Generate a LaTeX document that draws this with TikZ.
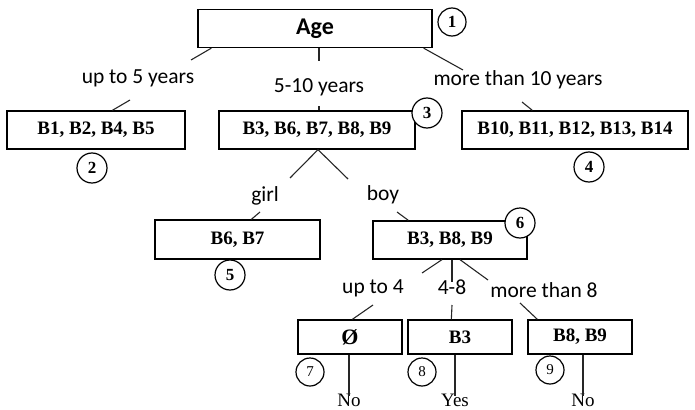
\documentclass[tikz,border=0pt]{standalone}
\usepackage{fontspec}
\setmainfont{Liberation Serif}
\newfontfamily\lblfont{Carlito}
\usetikzlibrary{positioning}

\begin{document}
\begin{tikzpicture}[x=1pt, y=-1pt,
    setbox/.style={draw, line width=1.3pt, minimum height=38pt, inner sep=0pt,
      font=\fontsize{19}{21}\selectfont\bfseries},
    numcirc/.style={circle, draw, fill=white, line width=1.2pt, minimum size=30pt, inner sep=0pt,
      font=\fontsize{17}{19}\selectfont\bfseries},
    leafcirc/.style={numcirc, minimum size=28pt, font=\fontsize{15}{17}\selectfont},
    branch/.style={inner sep=0pt, font=\lblfont\fontsize{21.5}{23}\selectfont},
    answer/.style={inner sep=0pt, font=\fontsize{19}{21}\selectfont},
    link/.style={line width=1.1pt, black!85}]

    \useasboundingbox (0,0) rectangle (695,409);

    % root
    \node[setbox, minimum width=234pt, font=\lblfont\fontsize{24}{26}\selectfont\bfseries] (age) at (315,28.5) {Age};
    \node[numcirc, minimum size=28pt] (n1) at (452,22) {1};

    % first level
    \node[branch] (lab5) at (138,78) {up to 5 years};
    \node[branch] (lab510) at (319,87) {5-10 years};
    \node[branch] (lab10) at (518,80) {more than 10 years};

    \node[setbox, minimum width=178pt] (b1) at (96,130) {B1, B2, B4, B5};
    \node[setbox, minimum width=196pt] (b3) at (317,130) {B3, B6, B7, B8, B9};
    \node[setbox, minimum width=226pt] (b10) at (575,130) {B10, B11, B12, B13, B14};
    \node[numcirc] (n2) at (92,168) {2};
    \node[numcirc] (n3) at (427,113) {3};
    \node[numcirc] (n4) at (589,167) {4};

    \coordinate (e5a) at (191,60);
    \coordinate (e5b) at (130,100);
    \coordinate (e10a) at (463,70);
    \coordinate (e10b) at (522,102);
    \draw[link] ([xshift=14pt]age.south west) -- (e5a);
    \draw[link] (e5b) -- ([xshift=106pt]b1.north west);
    \draw[link] ([xshift=4pt]age.south) -- ++(0,13);
    \draw[link] ([xshift=2pt]b3.north) -- ++(0,-4);
    \draw[link] ([xshift=-9pt]age.south east) -- (e10a);
    \draw[link] (e10b) -- ([xshift=71pt]b10.north west);

    % second level
    \node[branch] (girl) at (265,196) {girl};
    \node[branch] (boy) at (383,195) {boy};
    \node[setbox, minimum width=165pt, minimum height=39pt] (b6) at (237.5,239.5) {B6, B7};
    \node[setbox, minimum width=154pt] (b389) at (450,240) {B3, B8, B9};
    \node[numcirc] (n5) at (230,275) {5};
    \node[numcirc] (n6) at (520,223) {6};

    \coordinate (egirl) at (290,178);
    \coordinate (eboy) at (348,179);
    \coordinate (gtop) at (260,212);
    \coordinate (btop) at (397,212);
    \draw[link] ([xshift=1pt]b3.south) -- (egirl);
    \draw[link] ([xshift=1pt]b3.south) -- (eboy);
    \draw[link] (gtop) -- ([xshift=97pt]b6.north west);
    \draw[link] (btop) -- ([xshift=36pt]b389.north west);

    % third level
    \node[branch] (lab4) at (373,288) {up to 4};
    \node[branch] (lab48) at (452,287) {4-8};
    \node[branch] (lab8) at (544,290) {more than 8};

    \node[setbox, minimum width=104pt, minimum height=34pt, font=\fontsize{22}{24}\selectfont\bfseries] (bnone) at (350,337) {Ø};
    \node[setbox, minimum width=104pt, minimum height=34pt] (bb3) at (460,337) {B3};
    \node[setbox, minimum width=104pt, minimum height=34pt] (bb89) at (580,337) {B8, B9};
    \node[leafcirc] (n7) at (310,372) {7};
    \node[leafcirc] (n8) at (422,372) {8};
    \node[leafcirc] (n9) at (550,370) {9};

    \coordinate (e4a) at (422,273);
    \coordinate (e48a) at (452,282);
    \coordinate (e8a) at (488,280);
    \coordinate (e4b) at (373,305);
    \coordinate (e48b) at (452,305);
    \coordinate (e8b) at (520,303);
    \draw[link] ([xshift=-8pt]b389.south) -- (e4a);
    \draw[link] ([xshift=2pt]b389.south) -- (e48a);
    \draw[link] ([xshift=10pt]b389.south) -- (e8a);
    \draw[link] (e4b) -- ([xshift=55pt]bnone.north west);
    \draw[link] (e48b) -- ([xshift=44pt]bb3.north west);
    \draw[link] (e8b) -- ([xshift=10pt]bb89.north west);

    % answers
    \node[answer] (no1) at (349,400) {No};
    \node[answer] (yes) at (455,400) {Yes};
    \node[answer] (no2) at (583,400) {No};
    \draw[link] ([xshift=-1pt]bnone.south) -- ([yshift=-3pt]no1.north);
    \draw[link] ([xshift=-5pt]bb3.south) -- ([yshift=-3pt]yes.north);
    \draw[link] ([xshift=3pt]bb89.south) -- ([yshift=-3pt]no2.north);

\end{tikzpicture}
\end{document}
